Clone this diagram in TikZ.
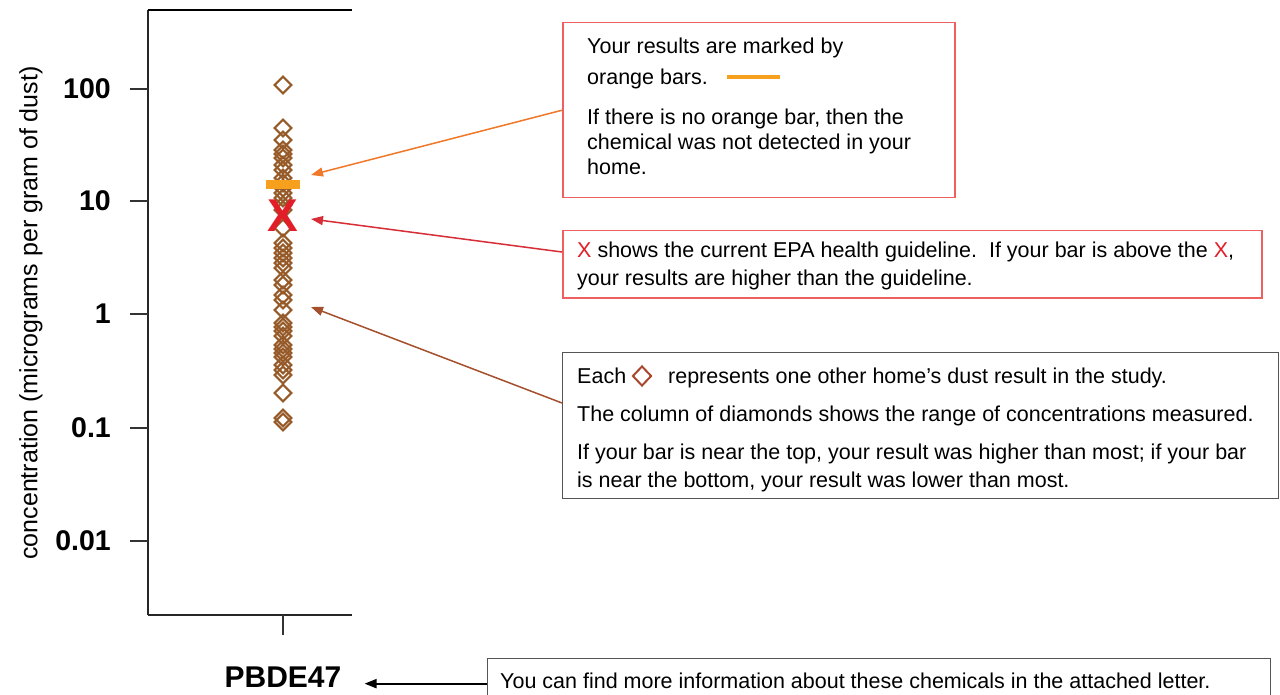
\documentclass[tikz,border=0pt]{standalone}
\usepackage{fontspec}
\setmainfont{Liberation Sans}
\usetikzlibrary{shapes.geometric,arrows.meta,calc}
\definecolor{diabrown}{RGB}{150,90,40}
\definecolor{textdia}{RGB}{170,70,45}
\definecolor{barorange}{RGB}{246,160,30}
\definecolor{xred}{RGB}{226,30,40}
\definecolor{boxred}{RGB}{238,96,96}
\definecolor{boxgray}{RGB}{85,85,85}
\definecolor{arrorange}{RGB}{240,120,40}
\definecolor{arrred}{RGB}{215,45,55}
\definecolor{arrbrown}{RGB}{165,80,45}
\begin{document}
\begin{tikzpicture}[x=1pt,y=-1pt,
  axisline/.style={line width=1.5pt, black!85},
  ticks/.style={line width=1.5pt, black!80},
  ticklab/.style={font=\fontsize{28.5}{30}\selectfont\bfseries, anchor=east, inner sep=0},
  diam/.style={draw=diabrown, shape=diamond, minimum width=17.5pt, minimum height=17.5pt, inner sep=0, line width=2.1pt},
  txt/.style={font=\fontsize{21.5}{26}\selectfont, anchor=base west, inner sep=0},
  redbox/.style={draw=boxred, line width=1.5pt, anchor=north west, inner sep=0},
  graybox/.style={draw=boxgray, line width=1.3pt, anchor=north west, inner sep=0},
  callout/.style={-{Triangle[length=12pt,width=9pt]}, line width=1.5pt}]
\useasboundingbox[fill=white] (0,0) rectangle (1280,695);

% axes
\draw[axisline] (148,10) -- (148,615);
\draw[line width=2.5pt] (148,10) -- (352,10);
\draw[axisline] (148,615) -- (352,615);
\draw[ticks] (283,615) -- (283,635);
\foreach \yy/\lab in {89/100, 201/10, 314/1, 428/0.1, 541/0.01}{
  \draw[ticks] (130,\yy) -- (148,\yy);
  \node[ticklab] (tl\lab) at (111,\yy) {\lab};
}
\node[rotate=90, font=\fontsize{25}{27}\selectfont, inner sep=0] (ylab) at (31,313) {concentration (micrograms per gram of dust)};
\node[font=\fontsize{30}{32}\selectfont\bfseries, inner sep=0] (pb) at (283,677) {PBDE47};

% data
\foreach \yy [count=\i] in {85,128,140,150,154,158,165,170,178,183,188,193,198,205,210,228,243,248,253,258,263,268,280,285,295,300,310,323,327,331,336,345,349,353,357,365,370,375,393,418,422}{
  \node[diam] (d\i) at (283,\yy) {};
}
\fill[barorange] (266,180) rectangle (300,189);
\node[font=\fontsize{46}{46}\selectfont\bfseries, text=xred, inner sep=0] (xmark) at (283,216) {X};

% boxes
\node[redbox, minimum width=392pt, minimum height=175pt] (box1) at (562,22) {};
\node[redbox, minimum width=699pt, minimum height=67pt] (box2) at (562,230) {};
\node[graybox, minimum width=716pt, minimum height=146pt] (box3) at (562,352) {};
\node[graybox, minimum width=783pt, minimum height=50pt] (box4) at (487,658) {};

\node[txt] (t1a) at (587,54) {Your results are marked by};
\node[txt] (t1b) at (587,85) {orange bars.};
\draw[barorange, line width=4.5pt] (727,77) -- (780,77);
\node[txt] (t1c) at (587,125) {If there is no orange bar, then the};
\node[txt] (t1d) at (587,150) {chemical was not detected in your};
\node[txt] (t1e) at (587,175) {home.};

\node[txt] (t2a) at (577,258) {\textcolor{xred}{X} shows the current EPA health guideline.\ \ If your bar is above the \textcolor{xred}{X},};
\node[txt] (t2b) at (577,285) {your results are higher than the guideline.};

\node[txt] (t3a) at (577,383) {Each\hspace{36pt} represents one other home's dust result in the study.};
\node[draw=textdia, shape=diamond, minimum width=19pt, minimum height=20pt, inner sep=0, line width=2pt] (tdia) at (642,376) {};
\node[txt] (t3b) at (577,421) {The column of diamonds shows the range of concentrations measured.};
\node[txt] (t3c) at (577,459) {If your bar is near the top, your result was higher than most; if your bar};
\node[txt] (t3d) at (577,487) {is near the bottom, your result was lower than most.};

\node[txt] (t4) at (500,688) {You can find more information about these chemicals in the attached letter.};

% connectors
\coordinate (a1) at (311,175);
\coordinate (a2) at (311,219);
\coordinate (a3) at (311,307);
\coordinate (s2) at ($(box2.north west)+(0,22)$);
\coordinate (s3) at ($(box3.north west)+(0,51)$);
\draw[callout, arrorange] (box1.west) -- (a1);
\draw[callout, arrred] (s2) -- (a2);
\draw[callout, arrbrown] (s3) -- (a3);
\coordinate (pbtip) at ($(pb.east)+(23,0)$);
\draw[line width=2pt, -{Triangle[length=12pt,width=9pt]}] (box4.west) -- (box4.west -| pbtip);
\end{tikzpicture}
\end{document}
